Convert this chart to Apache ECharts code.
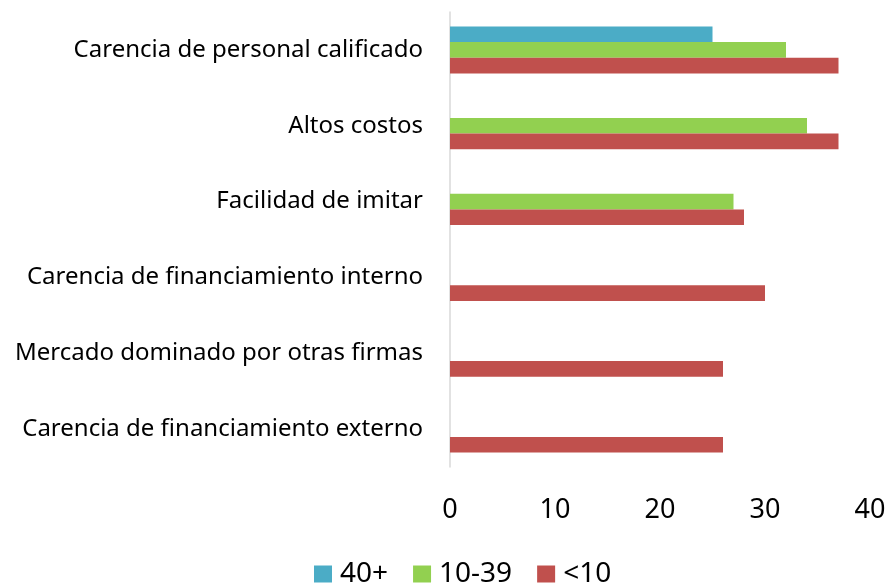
<!DOCTYPE html>
<html><head><meta charset="utf-8">
<script src="https://cdn.jsdelivr.net/npm/echarts@6/dist/echarts.min.js"></script>
<style>html,body{margin:0;padding:0;background:#fff}#c{width:889px;height:583px}</style>
</head><body><div id="c"></div>
<script>
const categories = ["Carencia de personal calificado","Altos costos","Facilidad de imitar","Carencia de financiamiento interno","Mercado dominado por otras firmas","Carencia de financiamiento externo"];
const s40 = [25, null, null, null, null, null];
const s10_39 = [32, 34, 27, null, null, null];
const sLt10 = [37, 37, 28, 30, 26, 26];
const xTicks = [0, 10, 20, 30, 40];

const font = "Noto Sans";
const chart = echarts.init(document.getElementById('c'));
chart.setOption({
  animation: false,
  textStyle: {fontFamily: font},
  grid: {left: 450, right: 19, top: 12, bottom: 116, containLabel: false},
  legend: {
    top: 555, left: 309, itemWidth: 18, itemHeight: 17, itemGap: 25,
    icon: 'rect',
    textStyle: {fontSize: 28, lineHeight: 24, color: '#000', fontFamily: font, padding: [0, 0, 0, 3]},
    data: ['40+', '10-39', '<10']
  },
  xAxis: {
    type: 'value', min: xTicks[0], max: xTicks[xTicks.length-1], interval: 10,
    axisLine: {show: false}, axisTick: {show: false}, splitLine: {show: false},
    axisLabel: {fontSize: 27, color: '#000', margin: 30, fontFamily: font}
  },
  yAxis: {
    type: 'category', data: categories, inverse: true,
    axisLine: {show: true, lineStyle: {color: '#D9D9D9', width: 1.5}},
    axisTick: {show: false},
    axisLabel: {fontSize: 24, color: '#000', margin: 27, fontFamily: font}
  },
  series: [
    {name: '40+', type: 'bar', data: s40, barGap: '0%', barCategoryGap: '38%', itemStyle: {color: '#4BACC6'}},
    {name: '10-39', type: 'bar', data: s10_39, barGap: '0%', barCategoryGap: '38%', itemStyle: {color: '#92D050'}},
    {name: '<10', type: 'bar', data: sLt10, barGap: '0%', barCategoryGap: '38%', itemStyle: {color: '#C0504D'}}
  ]
});
</script></body></html>
